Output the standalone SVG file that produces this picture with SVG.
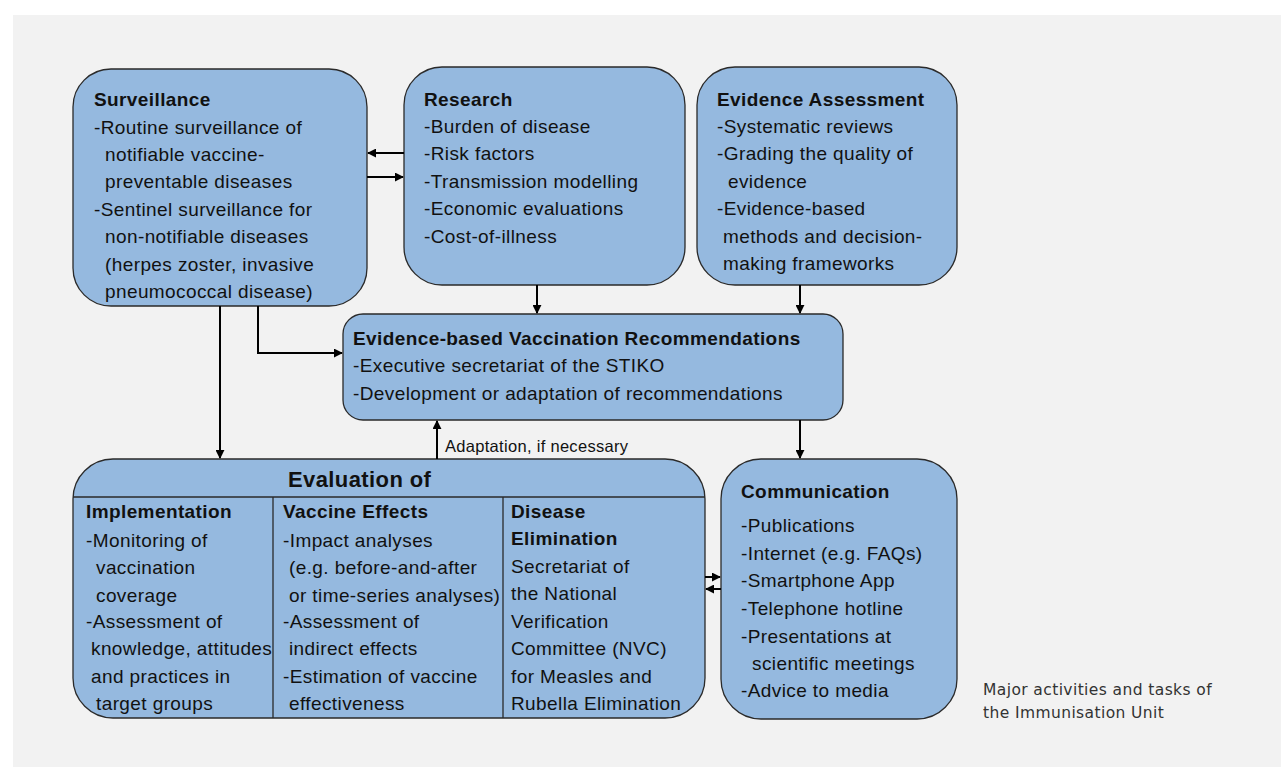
<svg xmlns="http://www.w3.org/2000/svg" width="1281" height="767" viewBox="0 0 1281 767">
<style>
.box{fill:#95b9df;stroke:#2a2a2a;stroke-width:1.3}
.t{font-family:"Liberation Sans",Arial,sans-serif;font-size:19px;letter-spacing:0.4px;fill:#111}
.b{font-weight:bold}
.lbl{font-family:"Liberation Sans",Arial,sans-serif;font-size:16.5px;letter-spacing:0.3px;fill:#111}
.cap{font-family:"DejaVu Sans",sans-serif;font-size:15.5px;letter-spacing:0.4px;fill:#333}
.ln{fill:none;stroke:#000;stroke-width:2}
.div{stroke:#2a2a2a;stroke-width:1.3}
</style>
<defs>
<marker id="ah" viewBox="0 0 10 10" refX="9" refY="5" markerWidth="4.5" markerHeight="4.5" orient="auto" markerUnits="strokeWidth">
<path d="M0,0 L10,5 L0,10 z" fill="#000"/>
</marker>
</defs>
<rect x="0" y="0" width="1281" height="767" fill="#fff"/>
<rect x="13" y="15" width="1268" height="752" fill="#f2f2f2"/>

<g id="surveillance">
<rect class="box" x="73" y="69" width="294" height="237" rx="38"/>
<text class="t b" x="94" y="106">Surveillance</text>
<text class="t" x="94" y="134">-Routine surveillance of</text>
<text class="t" x="105" y="161">notifiable vaccine-</text>
<text class="t" x="105" y="188">preventable diseases</text>
<text class="t" x="94" y="216">-Sentinel surveillance for</text>
<text class="t" x="105" y="243">non-notifiable diseases</text>
<text class="t" x="105" y="271">(herpes zoster, invasive</text>
<text class="t" x="105" y="298">pneumococcal disease)</text>
</g>

<g id="research">
<rect class="box" x="404" y="67" width="281" height="218" rx="38"/>
<text class="t b" x="424" y="106">Research</text>
<text class="t" x="424" y="133">-Burden of disease</text>
<text class="t" x="424" y="160">-Risk factors</text>
<text class="t" x="424" y="188">-Transmission modelling</text>
<text class="t" x="424" y="215">-Economic evaluations</text>
<text class="t" x="424" y="243">-Cost-of-illness</text>
</g>

<g id="evidence-assessment">
<rect class="box" x="697" y="67" width="260" height="218" rx="38"/>
<text class="t b" x="717" y="106">Evidence Assessment</text>
<text class="t" x="717" y="133">-Systematic reviews</text>
<text class="t" x="717" y="160">-Grading the quality of</text>
<text class="t" x="728" y="188">evidence</text>
<text class="t" x="717" y="215">-Evidence-based</text>
<text class="t" x="723" y="243">methods and decision-</text>
<text class="t" x="723" y="270">making frameworks</text>
</g>

<g id="recommendations">
<rect class="box" x="343" y="314" width="500" height="106" rx="20"/>
<text class="t b" x="353" y="345">Evidence-based Vaccination Recommendations</text>
<text class="t" x="353" y="372">-Executive secretariat of the STIKO</text>
<text class="t" x="353" y="400">-Development or adaptation of recommendations</text>
</g>

<g id="evaluation">
<rect class="box" x="73" y="459" width="632" height="259" rx="40"/>
<line class="div" x1="73" y1="497" x2="705" y2="497"/>
<line class="div" x1="273" y1="497" x2="273" y2="718"/>
<line class="div" x1="503" y1="497" x2="503" y2="718"/>
<text class="t b" x="288" y="487" style="font-size:22px">Evaluation of</text>
<text class="t b" x="86" y="518">Implementation</text>
<text class="t" x="86" y="547">-Monitoring of</text>
<text class="t" x="96" y="574">vaccination</text>
<text class="t" x="96" y="602">coverage</text>
<text class="t" x="86" y="628">-Assessment of</text>
<text class="t" x="91" y="655">knowledge, attitudes</text>
<text class="t" x="91" y="683">and practices in</text>
<text class="t" x="96" y="710">target groups</text>
<text class="t b" x="283" y="518">Vaccine Effects</text>
<text class="t" x="283" y="547">-Impact analyses</text>
<text class="t" x="289" y="574">(e.g. before-and-after</text>
<text class="t" x="289" y="602">or time-series analyses)</text>
<text class="t" x="283" y="628">-Assessment of</text>
<text class="t" x="289" y="655">indirect effects</text>
<text class="t" x="283" y="683">-Estimation of vaccine</text>
<text class="t" x="289" y="710">effectiveness</text>
<text class="t b" x="511" y="518">Disease</text>
<text class="t b" x="511" y="545">Elimination</text>
<text class="t" x="511" y="573">Secretariat of</text>
<text class="t" x="511" y="600">the National</text>
<text class="t" x="511" y="628">Verification</text>
<text class="t" x="511" y="655">Committee (NVC)</text>
<text class="t" x="511" y="683">for Measles and</text>
<text class="t" x="511" y="710">Rubella Elimination</text>
</g>

<g id="communication">
<rect class="box" x="721" y="459" width="236" height="260" rx="40"/>
<text class="t b" x="741" y="498">Communication</text>
<text class="t" x="741" y="532">-Publications</text>
<text class="t" x="741" y="560">-Internet (e.g. FAQs)</text>
<text class="t" x="741" y="587">-Smartphone App</text>
<text class="t" x="741" y="615">-Telephone hotline</text>
<text class="t" x="741" y="643">-Presentations at</text>
<text class="t" x="752" y="670">scientific meetings</text>
<text class="t" x="741" y="697">-Advice to media</text>
</g>

<g id="connectors">
<line class="ln" x1="404" y1="153" x2="368" y2="153" marker-end="url(#ah)"/>
<line class="ln" x1="367" y1="177" x2="403" y2="177" marker-end="url(#ah)"/>
<line class="ln" x1="537" y1="285" x2="537" y2="313" marker-end="url(#ah)"/>
<line class="ln" x1="800" y1="285" x2="800" y2="313" marker-end="url(#ah)"/>
<polyline class="ln" points="258,306 258,353 342,353" marker-end="url(#ah)"/>
<line class="ln" x1="220" y1="306" x2="220" y2="458" marker-end="url(#ah)"/>
<line class="ln" x1="437" y1="459" x2="437" y2="421" marker-end="url(#ah)"/>
<line class="ln" x1="800" y1="420" x2="800" y2="458" marker-end="url(#ah)"/>
<line class="ln" x1="705" y1="577" x2="720" y2="577" marker-end="url(#ah)"/>
<line class="ln" x1="721" y1="589" x2="706" y2="589" marker-end="url(#ah)"/>
<text class="lbl" x="445" y="452">Adaptation, if necessary</text>
</g>

<g id="caption">
<text class="cap" x="983" y="695">Major activities and tasks of</text>
<text class="cap" x="983" y="718">the Immunisation Unit</text>
</g>
</svg>
